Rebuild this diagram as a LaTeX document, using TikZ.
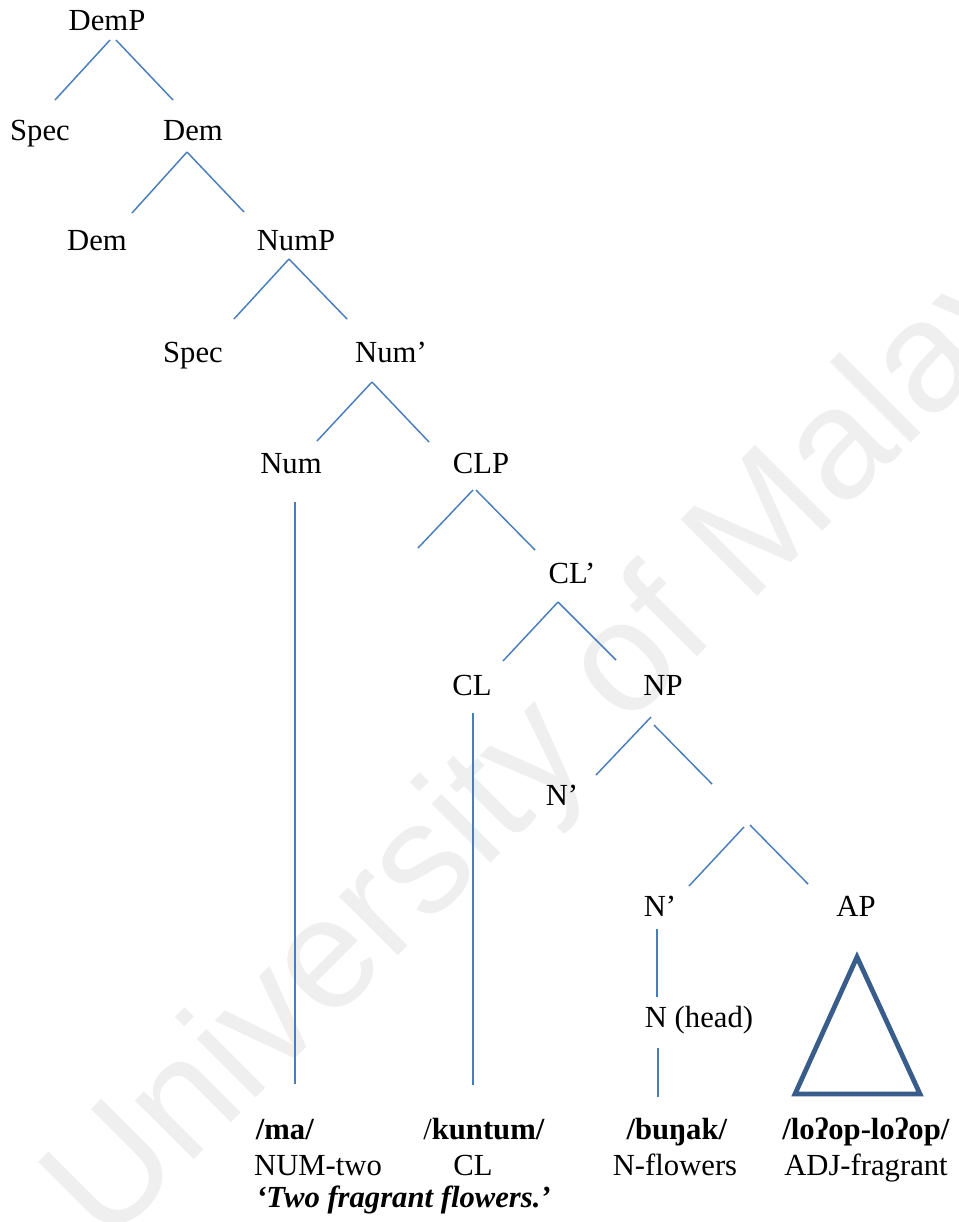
\documentclass[tikz,border=0pt]{standalone}
\usepackage{fontspec}
\setmainfont{Liberation Serif}
\newfontfamily\wmfont{Liberation Sans}
\definecolor{branch}{HTML}{4A7EBB}
\definecolor{tri}{HTML}{385D8A}
\definecolor{wmgray}{HTML}{EFEFEF}
\begin{document}
\begin{tikzpicture}[x=0.75pt,y=-0.75pt,
  lbl/.style={anchor=base,inner sep=0pt,font=\fontsize{23}{27}\selectfont},
  edge/.style={draw=branch,line width=1.1pt},
  roof/.style={draw=tri,line width=3.6pt,line join=miter}]
\useasboundingbox (0,0) rectangle (958,1222);
\clip (0,0) rectangle (958,1222);
\fill[white] (0,0) rectangle (958,1222);

% faint diagonal watermark
\node[rotate=45,anchor=base west,inner sep=0pt,text=wmgray,
      font=\wmfont\fontsize{118}{118}\selectfont] (wm) at (106,1248) {University of Malaya};

% tree labels
\node[lbl] (DemP)  at (107,30)  {DemP};
\node[lbl] (SpecA) at (40,140)  {Spec};
\node[lbl] (DemA)  at (193,140) {Dem};
\node[lbl] (DemB)  at (97,250)  {Dem};
\node[lbl] (NumP)  at (296,250) {NumP};
\node[lbl] (SpecB) at (193,362) {Spec};
\node[lbl] (NumB)  at (391,362) {Num’};
\node[lbl] (Num)   at (291,473) {Num};
\node[lbl] (CLP)   at (481,473) {CLP};
\node[lbl] (CLB)   at (572,583) {CL’};
\node[lbl] (CL)    at (472,695) {CL};
\node[lbl] (NP)    at (663,695) {NP};
\node[lbl] (NBa)   at (562,805) {N’};
\node[lbl] (NBb)   at (660,916) {N’};
\node[lbl] (AP)    at (856,916) {AP};
\node[lbl] (Nhead) at (699,1027) {N (head)};

% words and glosses
\node[lbl] (ma)     at (285,1139) {\textbf{/ma/}};
\node[lbl] (kuntum) at (484,1139) {/\textbf{kuntum/}};
\node[lbl] (bunak)  at (677,1139) {\textbf{/buŋak/}};
\node[lbl] (lop)    at (866,1139) {\textbf{/loʔop-loʔop/}};
\node[lbl] (gnum)   at (318,1175) {NUM-two};
\node[lbl] (gcl)    at (473,1175) {CL};
\node[lbl] (gn)     at (675,1175) {N-flowers};
\node[lbl] (gadj)   at (866,1175) {ADJ-fragrant};
\node[lbl,anchor=base west] (trans) at (256,1207) {\textbf{\textit{‘Two fragrant flowers.’}}};

% branch end points
\coordinate (DemP-l) at (110,40);  \coordinate (SpecA-t) at (55,100);
\coordinate (DemP-r) at (116,40);  \coordinate (DemA-t)  at (173,100);
\coordinate (DemA-b) at (187,152); \coordinate (DemB-t)  at (132,213);
                                   \coordinate (NumP-t)  at (244,212);
\coordinate (NumP-b) at (289,259); \coordinate (SpecB-t) at (234,319);
                                   \coordinate (NumB-t)  at (347,319);
\coordinate (NumB-b) at (372,382); \coordinate (Num-t)   at (317,441);
                                   \coordinate (CLP-t)   at (429,442);
\coordinate (CLP-l)  at (473,490); \coordinate (spec-t)  at (418,548);
\coordinate (CLP-r)  at (476,490); \coordinate (CLB-t)   at (535,550);
\coordinate (CLB-b)  at (558,602); \coordinate (CL-t)    at (503,661);
                                   \coordinate (NP-t)    at (616,660);
\coordinate (NP-l)   at (651,717); \coordinate (NBa-t)   at (596,775);
\coordinate (NP-r)   at (654,725); \coordinate (X-t)     at (712,784);
\coordinate (X-l)    at (744,827); \coordinate (NBb-t)   at (689,886);
\coordinate (X-r)    at (750,825); \coordinate (AP-t)    at (808,884);
\coordinate (Num-b)  at (295,502); \coordinate (ma-t)    at (295,1084);
\coordinate (CL-b)   at (473,713); \coordinate (kuntum-t) at (473,1085);
\coordinate (NBb-b)  at (657,929); \coordinate (Nhead-t) at (657,997);
\coordinate (Nhead-b) at (658,1048); \coordinate (bunak-t) at (658,1097);
\coordinate (AP-apex) at (857,957);
\coordinate (AP-bl)  at (795,1094);
\coordinate (AP-br)  at (920,1094);

% branches
\draw[edge] (DemP-l) -- (SpecA-t);
\draw[edge] (DemP-r) -- (DemA-t);
\draw[edge] (DemA-b) -- (DemB-t);
\draw[edge] (DemA-b) -- (NumP-t);
\draw[edge] (NumP-b) -- (SpecB-t);
\draw[edge] (NumP-b) -- (NumB-t);
\draw[edge] (NumB-b) -- (Num-t);
\draw[edge] (NumB-b) -- (CLP-t);
\draw[edge] (CLP-l) -- (spec-t);
\draw[edge] (CLP-r) -- (CLB-t);
\draw[edge] (CLB-b) -- (CL-t);
\draw[edge] (CLB-b) -- (NP-t);
\draw[edge] (NP-l) -- (NBa-t);
\draw[edge] (NP-r) -- (X-t);
\draw[edge] (X-l) -- (NBb-t);
\draw[edge] (X-r) -- (AP-t);
\draw[edge] (Num-b) -- (ma-t);
\draw[edge] (CL-b) -- (kuntum-t);
\draw[edge] (NBb-b) -- (Nhead-t);
\draw[edge] (Nhead-b) -- (bunak-t);

% triangle over the adjective phrase
\draw[roof] (AP-apex) -- (AP-br) -- (AP-bl) -- cycle;
\end{tikzpicture}
\end{document}
